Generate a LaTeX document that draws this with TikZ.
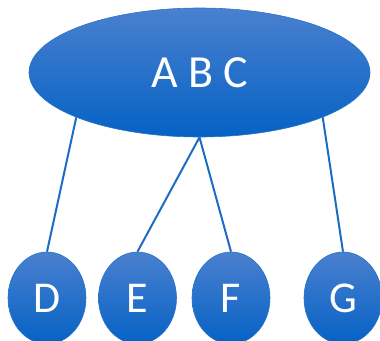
\documentclass[tikz,border=0pt]{standalone}
\usepackage{fontspec}
\setmainfont{Carlito}
\usetikzlibrary{shapes.geometric}
\definecolor{topblue}{HTML}{4A80CF}
\definecolor{midblue}{HTML}{0F6BCB}
\definecolor{botblue}{HTML}{0562C5}
\definecolor{edgeblue}{HTML}{2A74C8}
\definecolor{lineblue}{HTML}{1D6CC3}

\begin{document}
\begin{tikzpicture}
[x=1pt, y=-1pt,
bigball/.style={ellipse, draw=edgeblue, top color=topblue, middle color=midblue, bottom color=botblue, semithick, inner sep=0pt, minimum width=341pt, minimum height=129pt, text=white, font=\fontsize{46}{50}\selectfont},
smallball/.style={ellipse, draw=edgeblue, top color=topblue, middle color=midblue, bottom color=botblue, semithick, inner sep=0pt, minimum width=78pt, minimum height=92pt, text=white, font=\fontsize{44}{48}\selectfont},
link/.style={draw=lineblue, line width=2pt}
]
\useasboundingbox (0,0) rectangle (380,340);
%level 0
\node at (199.5,72.5) [bigball] (abc) {A B C};
%level 1
\node at (47,298) [smallball] (d) {D};
\node at (137.5,298) [smallball] (e) {E};
\node at (231,298) [smallball] (f) {F};
\node at (343,298) [smallball] (g) {G};
%links
\draw[link] (abc.200) -- (d.north);
\draw[link] (abc.south) -- (e.north);
\draw[link] (abc.south) -- (f.north);
\draw[link] (abc.340) -- (g.north);
\end{tikzpicture}
\end{document}
